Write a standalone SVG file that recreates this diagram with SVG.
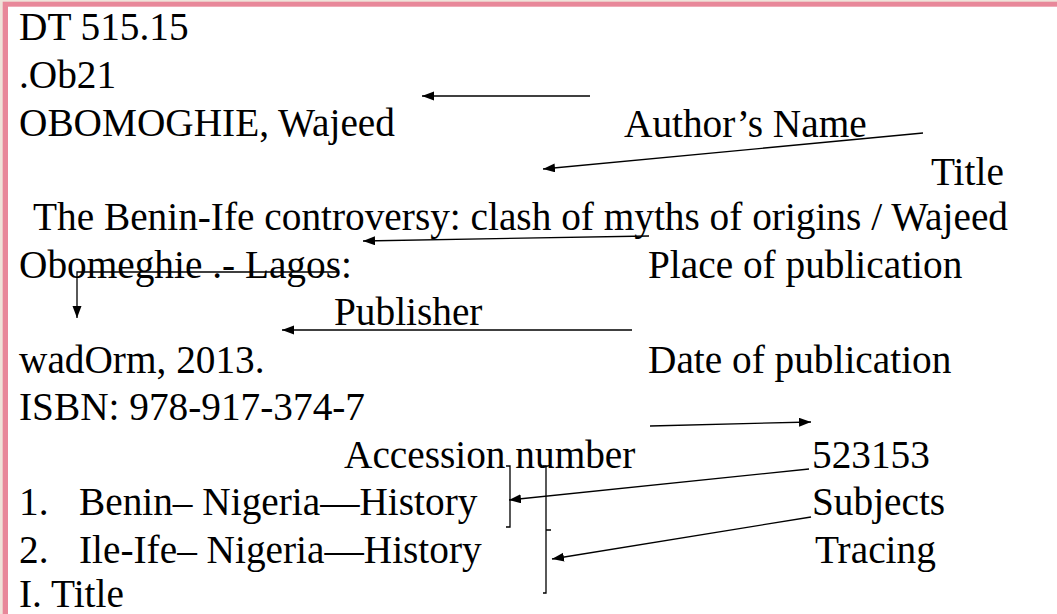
<svg xmlns="http://www.w3.org/2000/svg" width="1057" height="614" viewBox="0 0 1057 614">
<style>
text{font-family:"Liberation Serif","Times New Roman",serif;font-size:39.3px;fill:#000}
.c{fill:none;stroke:#000;stroke-width:1.3}
</style>
<defs>
<marker id="ah" markerUnits="userSpaceOnUse" markerWidth="13" markerHeight="10" refX="12" refY="4.5" orient="auto">
<path d="M0,0 L12,4.5 L0,9 z" fill="#000"/>
</marker>
</defs>
<g id="frame">
<rect x="0" y="0" width="1057" height="614" fill="#efe3da"/>
<rect x="2.7" y="1.7" width="1057" height="614" fill="#e8889a"/>
<rect x="8" y="6.7" width="1057" height="614" fill="#ffffff"/>
</g>
<g id="record">
<text x="19" y="40">DT 515.15</text>
<text x="19" y="88">.Ob21</text>
<text x="19" y="136">OBOMOGHIE, Wajeed</text>
<text x="33" y="230">The Benin-Ife controversy: clash of myths of origins / Wajeed</text>
<text x="19" y="278">Obomeghie .- Lagos:</text>
<text x="19" y="373">wadOrm, 2013.</text>
<text x="19" y="420">ISBN: 978-917-374-7</text>
<text x="19" y="515">1.</text>
<text x="79" y="515">Benin– Nigeria—History</text>
<text x="19" y="563">2.</text>
<text x="79" y="563">Ile-Ife– Nigeria—History</text>
<text x="19" y="607">I. Title</text>
</g>
<g id="label-author"><text x="624" y="137">Author’s Name</text></g>
<g id="label-title"><text x="931" y="185">Title</text></g>
<g id="label-place"><text x="648" y="278">Place of publication</text></g>
<g id="label-publisher"><text x="334" y="325">Publisher</text></g>
<g id="label-date"><text x="648" y="373">Date of publication</text></g>
<g id="label-accession"><text x="344" y="468">Accession number</text></g>
<g id="label-accno"><text x="812" y="468">523153</text></g>
<g id="label-subjects"><text x="812" y="515">Subjects</text></g>
<g id="label-tracing"><text x="815" y="563">Tracing</text></g>
<g id="connectors">
<path class="c" d="M590,96 L422,96" marker-end="url(#ah)"/>
<path class="c" d="M923,133 L543,169" marker-end="url(#ah)"/>
<path class="c" d="M649,236 L363,241" marker-end="url(#ah)"/>
<path class="c" d="M338,272 L77,272 L77,318" marker-end="url(#ah)"/>
<path class="c" d="M632,330 L282,330" marker-end="url(#ah)"/>
<path class="c" d="M650,426 L811,422" marker-end="url(#ah)"/>
<path class="c" d="M809,469 L509,500" marker-end="url(#ah)"/>
<path class="c" d="M811,517 L552,559" marker-end="url(#ah)"/>
<path class="c" d="M506,466 L510,466 L510,527 L506,527"/>
<path class="c" d="M543,466 L546,466 L546,593 L543,593 M546,530 L551,530"/>
</g>
</svg>
